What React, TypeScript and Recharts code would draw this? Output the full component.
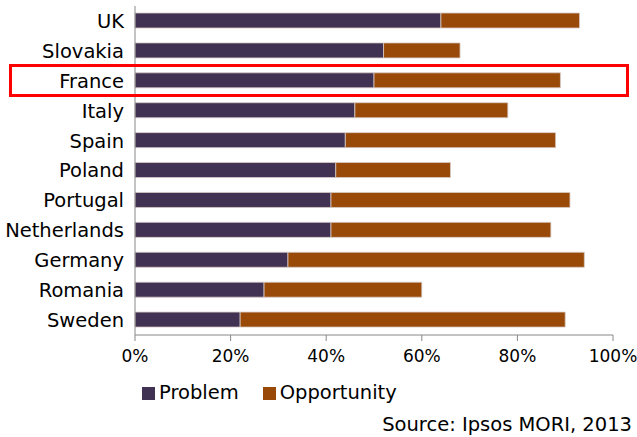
import { Bar, BarChart, Legend, XAxis, YAxis } from "recharts";

const countries = ["UK", "Slovakia", "France", "Italy", "Spain", "Poland", "Portugal", "Netherlands", "Germany", "Romania", "Sweden"];
const problem = [64, 52, 50, 46, 44, 42, 41, 41, 32, 27, 22];
const opportunity = [29, 16, 39, 32, 44, 24, 50, 46, 62, 33, 68];
const xTicks = [0, 20, 40, 60, 80, 100];

const data = countries.map((country, i) => ({
  country,
  problem: problem[i],
  opportunity: opportunity[i],
}));

const font = "'DejaVu Sans', sans-serif";
const textStyle = { fill: "#000", fontSize: 19.5, fontFamily: font };

export default function App() {
  return (
    <div style={{ position: "absolute", left: 0, top: 0, width: 637, height: 437, background: "#fff", fontFamily: font }}>
      <BarChart
        width={637}
        height={437}
        data={data}
        layout="vertical"
        barSize={15}
        margin={{ top: 6, right: 24, left: 0, bottom: 0 }}
      >
        <XAxis
          type="number"
          domain={[0, 100]}
          ticks={xTicks}
          tickFormatter={(v) => `${v}%`}
          height={35}
          tick={{ ...textStyle, fontSize: 17 }}
          tickMargin={9}
          axisLine={{ stroke: "#888" }}
          tickLine={{ stroke: "#888" }}
        />
        <YAxis
          type="category"
          dataKey="country"
          width={135}
          tick={textStyle}
          tickLine={false}
          tickSize={0}
          tickMargin={11}
          axisLine={{ stroke: "#888" }}
        />
        <Legend
          verticalAlign="bottom"
          align="left"
          height={67}
          iconType="square"
          iconSize={13}
          itemSorter={(item) => (item.dataKey === "problem" ? 0 : 1)}
          wrapperStyle={{ left: 142, top: 381, width: 400, fontSize: 19.5, fontFamily: font }}
          formatter={(value) => (
            <span style={{ color: "#000", marginRight: value === "Problem" ? 14 : 0 }}>{value}</span>
          )}
        />
        <Bar dataKey="problem" name="Problem" stackId="a" fill="#413152" stroke="#d8ccc8" strokeWidth={0.8} isAnimationActive={false} />
        <Bar dataKey="opportunity" name="Opportunity" stackId="a" fill="#994a08" stroke="#d8ccc8" strokeWidth={0.8} isAnimationActive={false} />
      </BarChart>
      <div
        style={{
          position: "absolute",
          left: 9,
          top: 64,
          width: 620,
          height: 33,
          boxSizing: "border-box",
          border: "3px solid #ff0000",
        }}
      />
      <div style={{ position: "absolute", right: 5, top: 413, fontSize: 19.5, color: "#000" }}>
        Source: Ipsos MORI, 2013
      </div>
    </div>
  );
}
